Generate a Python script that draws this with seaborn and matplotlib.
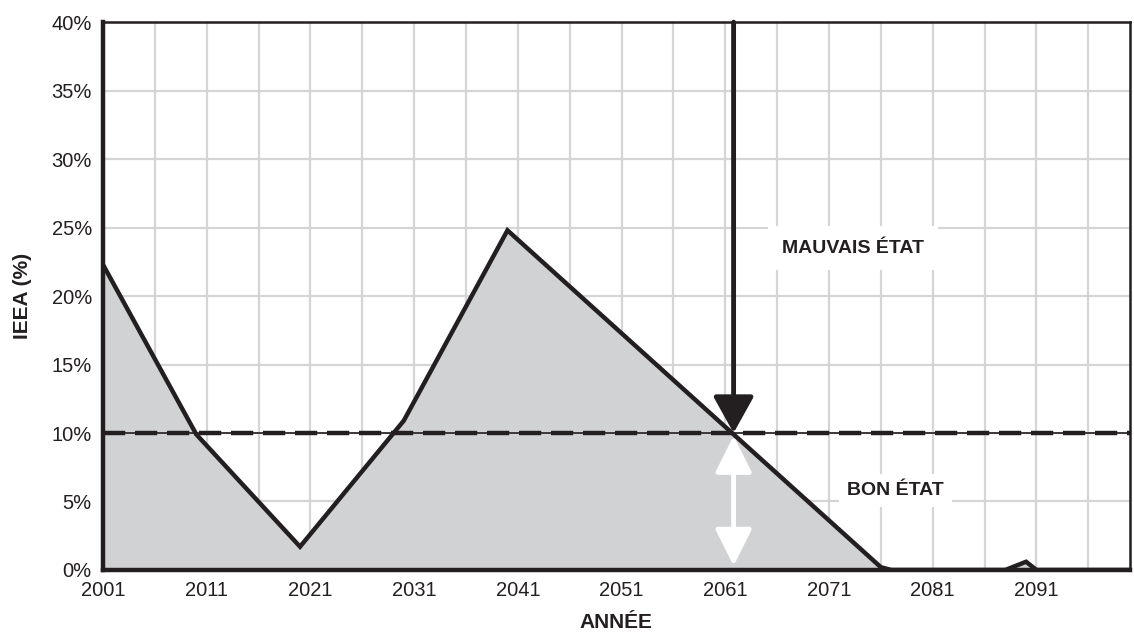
import numpy as np
import pandas as pd
import matplotlib
matplotlib.use("Agg")
import matplotlib.pyplot as plt
import seaborn as sns
from matplotlib.ticker import FuncFormatter

# ---- data ----
years = [2001, 2010, 2020, 2030, 2040, 2076, 2077, 2088, 2090, 2091, 2100]
ieea = [22.3, 9.9, 1.7, 10.9, 24.8, 0.2, 0.0, 0.0, 0.6, 0.0, 0.0]
threshold = 10.0
crossing_year = 2061.8
xtick_years = [2001, 2011, 2021, 2031, 2041, 2051, 2061, 2071, 2081, 2091]
ytick_vals = [0, 5, 10, 15, 20, 25, 30, 35, 40]
label_bad = "MAUVAIS ÉTAT"
label_good = "BON ÉTAT"
xlabel = "ANNÉE"
ylabel = "IEEA (%)"

df = pd.DataFrame({"year": years, "ieea": ieea})

sns.set_style("white")
plt.rcParams["font.family"] = ["Liberation Sans", "DejaVu Sans"]

fig = plt.figure(figsize=(11.34, 6.34), dpi=100)
ax = fig.add_axes([0.0908, 0.101, 0.9055, 0.864])

ax.fill_between(df["year"], df["ieea"], 0, color="#d1d2d4", zorder=2, linewidth=0)
sns.lineplot(data=df, x="year", y="ieea", ax=ax, color="#231f20", linewidth=3.2,
             zorder=4, solid_joinstyle="miter")

# threshold line
ax.axhline(threshold, color="#231f20", linewidth=1.2, zorder=3)
ax.axhline(threshold, color="#231f20", linewidth=3.2, dashes=(5.0, 2.2), zorder=3)

ax.set_xlim(2001, 2100)
ax.set_ylim(0, 40)
ax.set_xticks(xtick_years)
ax.set_xticks([y for y in range(2006, 2100, 10)], minor=True)
ax.set_yticks(ytick_vals)
ax.yaxis.set_major_formatter(FuncFormatter(lambda v, p: f"{int(v)}%"))

ax.grid(True, which="both", axis="x", color="#d5d5d7", linewidth=1.6, zorder=0)
ax.grid(True, which="major", axis="y", color="#d5d5d7", linewidth=1.6, zorder=0)
ax.set_axisbelow(True)

ax.tick_params(axis="both", which="major", length=5, width=1.5, color="#231f20",
               labelsize=14.5, labelcolor="#231f20", direction="out", pad=3)
ax.tick_params(axis="x", which="minor", length=0)

for side in ["top", "right"]:
    ax.spines[side].set_linewidth(1.8)
    ax.spines[side].set_color("#231f20")
for side in ["left", "bottom"]:
    ax.spines[side].set_linewidth(3.2)
    ax.spines[side].set_color("#231f20")
    ax.spines[side].set_zorder(5)

ax.set_xlabel(xlabel, fontsize=15, fontweight="bold", color="#231f20", labelpad=9)
ax.set_ylabel(ylabel, fontsize=15, fontweight="bold", color="#231f20", labelpad=14)

# arrows
ax.annotate("", xy=(crossing_year, threshold), xytext=(crossing_year, 40),
            arrowprops=dict(arrowstyle="-|>,head_length=0.9,head_width=0.5",
                            color="#231f20", lw=3.5, shrinkA=0, shrinkB=0,
                            mutation_scale=25),
            zorder=6)
ax.annotate("", xy=(crossing_year, 0.3), xytext=(crossing_year, threshold - 0.2),
            arrowprops=dict(arrowstyle="<|-|>,head_length=0.9,head_width=0.45",
                            color="white", lw=3.5, shrinkA=0, shrinkB=0,
                            mutation_scale=25),
            zorder=6)

ax.text(2073.3, 23.5, label_bad, fontsize=14, fontweight="bold", color="#231f20",
        ha="center", va="center", zorder=7,
        bbox=dict(facecolor="white", edgecolor="none", pad=10))
ax.text(2077.4, 5.8, label_good, fontsize=14, fontweight="bold", color="#231f20",
        ha="center", va="center", zorder=7,
        bbox=dict(facecolor="white", edgecolor="none", pad=6))

fig.savefig("out.png", dpi=100)
